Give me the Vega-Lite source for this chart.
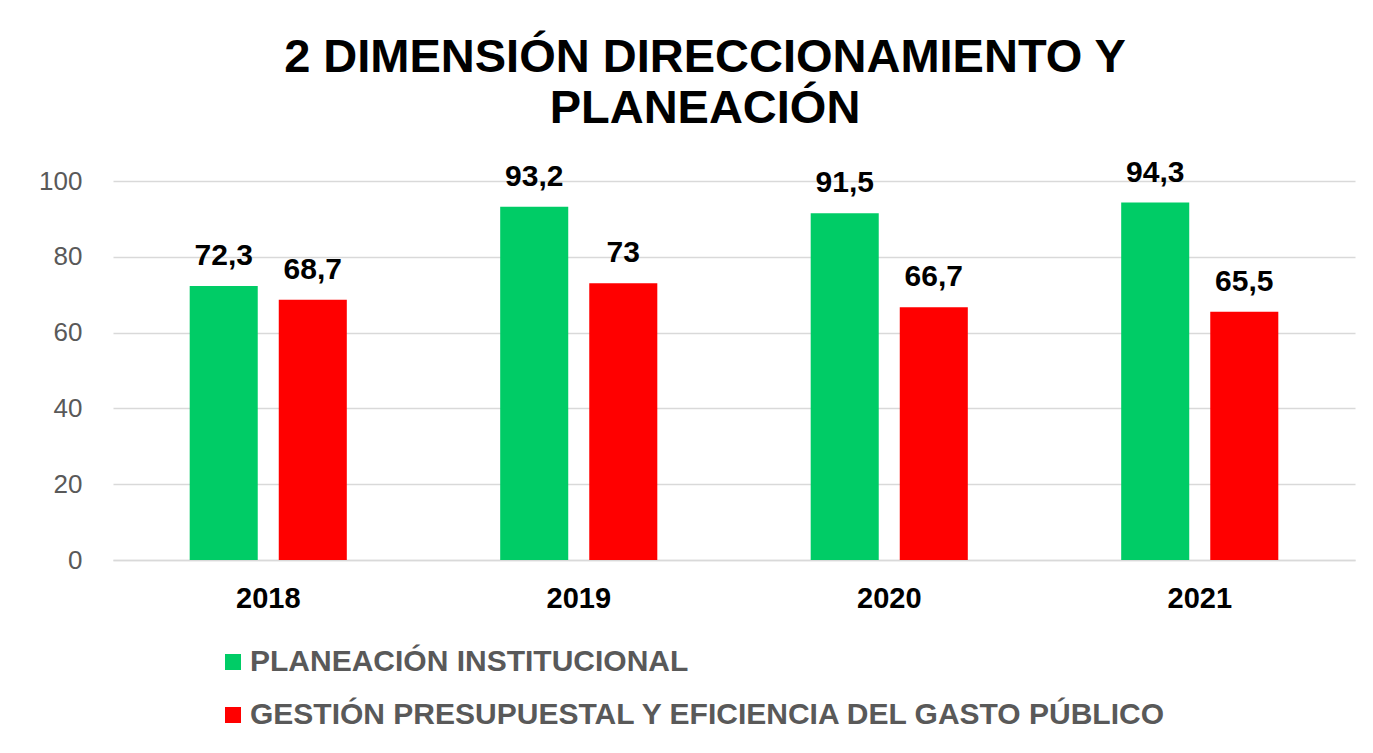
{
  "$schema": "https://vega.github.io/schema/vega-lite/v6.json",
  "width": 1242,
  "height": 379,
  "autosize": {"type": "none"},
  "padding": {"left": 113, "top": 181, "right": 18, "bottom": 193},
  "background": "white",
  "config": {
    "locale": {"number": {"decimal": ",", "thousands": ".", "grouping": [3], "currency": ["", ""]}},
    "view": {"stroke": null},
    "font": "Liberation Sans"
  },
  "title": {
    "text": ["2 DIMENSIÓN DIRECCIONAMIENTO Y", "PLANEACIÓN"],
    "font": "Liberation Sans",
    "fontSize": 47,
    "fontWeight": "bold",
    "color": "#000000",
    "anchor": "middle",
    "dx": -29,
    "lineHeight": 51,
    "offset": 25
  },
  "data": {
    "values": [
      {"year": "2018", "serie": "PLANEACIÓN INSTITUCIONAL", "valor": 72.3},
      {"year": "2018", "serie": "GESTIÓN PRESUPUESTAL  Y EFICIENCIA DEL GASTO PÚBLICO", "valor": 68.7},
      {"year": "2019", "serie": "PLANEACIÓN INSTITUCIONAL", "valor": 93.2},
      {"year": "2019", "serie": "GESTIÓN PRESUPUESTAL  Y EFICIENCIA DEL GASTO PÚBLICO", "valor": 73},
      {"year": "2020", "serie": "PLANEACIÓN INSTITUCIONAL", "valor": 91.5},
      {"year": "2020", "serie": "GESTIÓN PRESUPUESTAL  Y EFICIENCIA DEL GASTO PÚBLICO", "valor": 66.7},
      {"year": "2021", "serie": "PLANEACIÓN INSTITUCIONAL", "valor": 94.3},
      {"year": "2021", "serie": "GESTIÓN PRESUPUESTAL  Y EFICIENCIA DEL GASTO PÚBLICO", "valor": 65.5}
    ]
  },
  "encoding": {
    "x": {
      "field": "year",
      "type": "nominal",
      "scale": {"paddingInner": 0.494, "paddingOuter": 0.247},
      "axis": {
        "title": null,
        "labelAngle": 0,
        "labelFont": "Liberation Sans",
        "labelFontSize": 29,
        "labelFontWeight": "bold",
        "labelColor": "#000000",
        "domainColor": "#d9d9d9",
        "domainWidth": 1.5,
        "ticks": false,
        "tickSize": 0,
        "labelPadding": 24,
        "grid": false
      }
    },
    "xOffset": {
      "field": "serie",
      "type": "nominal",
      "sort": ["PLANEACIÓN INSTITUCIONAL", "GESTIÓN PRESUPUESTAL  Y EFICIENCIA DEL GASTO PÚBLICO"],
      "scale": {"paddingInner": 0.236, "paddingOuter": 0}
    },
    "y": {
      "field": "valor",
      "type": "quantitative",
      "scale": {"domain": [0, 100]},
      "axis": {
        "title": null,
        "values": [0, 20, 40, 60, 80, 100],
        "domain": false,
        "ticks": false,
        "tickSize": 0,
        "labelPadding": 31,
        "labelFont": "Liberation Sans",
        "labelFontSize": 26,
        "labelColor": "#595959",
        "gridColor": "#d9d9d9",
        "gridWidth": 1.5
      }
    }
  },
  "layer": [
    {
      "mark": {"type": "bar"},
      "encoding": {
        "color": {
          "field": "serie",
          "type": "nominal",
          "scale": {
            "domain": ["PLANEACIÓN INSTITUCIONAL", "GESTIÓN PRESUPUESTAL  Y EFICIENCIA DEL GASTO PÚBLICO"],
            "range": ["#00cc66", "#ff0000"]
          },
          "legend": {
            "title": null,
            "orient": "none",
            "direction": "vertical",
            "legendX": 105,
            "legendY": 466,
            "padding": 0,
            "symbolType": "square",
            "symbolSize": 256,
            "symbolStrokeWidth": 0,
            "labelFont": "Liberation Sans",
            "labelFontSize": 30,
            "labelFontWeight": "bold",
            "labelColor": "#595959",
            "labelLimit": 2000,
            "labelOffset": 2,
            "rowPadding": 23
          }
        }
      }
    },
    {
      "mark": {"type": "text", "baseline": "alphabetic", "dy": -21, "font": "Liberation Sans", "fontSize": 30, "fontWeight": "bold", "color": "#000000"},
      "encoding": {
        "text": {"field": "valor", "type": "quantitative", "format": "~g"}
      }
    }
  ]
}
